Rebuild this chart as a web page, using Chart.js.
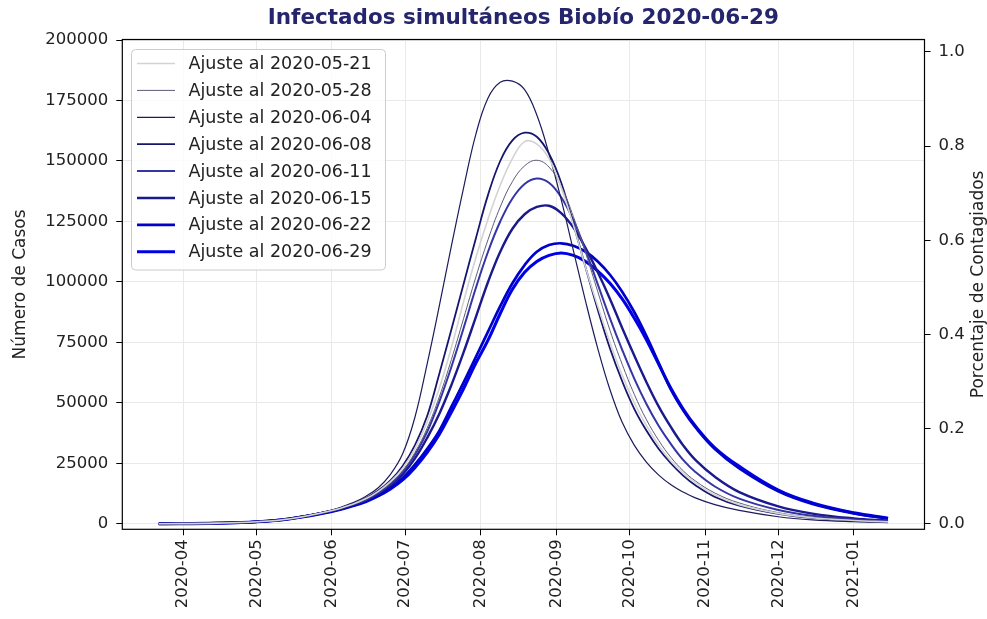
<!DOCTYPE html>
<html>
<head>
<meta charset="utf-8">
<script src="https://cdn.jsdelivr.net/npm/chart.js@4.4.1/dist/chart.umd.min.js"></script>
<style>
html,body{margin:0;padding:0;background:#fff;}
canvas{display:block;}
</style>
</head>
<body>
<canvas id="c" width="987" height="619"></canvas>
<script>
// ---------------- data ----------------
const chartTitle = 'Infectados simultáneos Biobío 2020-06-29';
const leftAxisTitle = 'Número de Casos';
const rightAxisTitle = 'Porcentaje de Contagiados';

const dates = ['2020-03-22','2020-04-15','2020-05-01','2020-05-15','2020-06-01',
  '2020-06-10','2020-06-15','2020-06-20','2020-06-25','2020-06-30',
  '2020-07-05','2020-07-10','2020-07-15','2020-07-20','2020-07-25',
  '2020-07-30','2020-08-04','2020-08-09','2020-08-14','2020-08-19',
  '2020-08-24','2020-08-29','2020-09-03','2020-09-08','2020-09-13',
  '2020-09-18','2020-09-23','2020-09-28','2020-10-03','2020-10-08',
  '2020-10-13','2020-10-18','2020-10-23','2020-10-28',
  '2020-11-05','2020-11-15','2020-12-01','2020-12-15','2021-01-01','2021-01-15'];

const fitLabels = ['Ajuste al 2020-05-21','Ajuste al 2020-05-28','Ajuste al 2020-06-04','Ajuste al 2020-06-08',
  'Ajuste al 2020-06-11','Ajuste al 2020-06-15','Ajuste al 2020-06-22','Ajuste al 2020-06-29'];

const fit0521 = [80,350,900,2200,5600, 8400,10500,13500,17500,23000, 31000,42000,56000,73000,92000,
  110000,126000,140000,151000,158000, 157000,151000,139000,123500,106000, 90000,75000,61500,50000,40500,
  32500,26000,21000,17000, 12000,8000,4400,2600,1450,880];
const fit0528 = [80,350,900,2200,5500, 8300,10300,13200,17000,22000, 29500,39500,52500,68000,85000,
  102000,117500,131000,141500,148000, 150300,147500,139500,127000,112000, 96000,80000,66000,53500,43000,
  34500,27500,22000,17800, 12800,8700,4700,2800,1550,950];
const fit0604 = [80,350,900,2200,5800, 9000,11500,15000,20500,29000, 44000,66000,90000,115000,139000,
  161000,176000,182500,183000,179500, 169000,153000,134000,113000,92000, 72500,55500,42000,32500,25500,
  20200,16200,13200,10800, 8000,5600,3000,1700,950,600];
const fit0608 = [80,350,900,2200,5600, 8500,10700,13800,18000,24000, 32500,44500,62000,80500,99300,
  118000,136000,150000,158500,161700, 160000,153000,141000,124000,106000, 88500,72500,59000,47500,38500,
  31000,25000,20000,16000, 11200,7600,4200,2500,1400,850];
const fit0611 = [80,350,900,2200,5500, 8200,10100,12900,16500,21500, 28500,38000,50500,65000,81000,
  97500,112500,125000,134500,140500, 142800,141000,135000,125500,113000, 99000,85000,72000,60000,49500,
  40500,33000,26500,21500, 15500,10500,5800,3400,1850,1100];
const fit0615 = [80,350,900,2200,5400, 8000,9900,12500,16000,20500, 27000,35500,45500,57500,71000,
  85500,100000,112500,122000,128000, 131000,131500,128500,122500,114000, 104000,93000,81000,69500,58500,
  48500,40000,32500,26500, 19500,13200,7300,4300,2300,1400];
const fit0622 = [80,350,900,2200,5300, 7800,9600,12000,15000,19000, 24500,31000,38500,48500,58500,
  69000,79500,90000,99500,107000, 112500,115300,116000,115000,112500, 108500,103000,96000,87500,77500,
  66500,55500,47000,40000, 31000,23000,13500,8300,4400,2300];
const fit0629 = [80,350,900,2200,5200, 7600,9300,11600,14500,18200, 23300,29500,37000,46300,56000,
  66500,76000,87000,97000,104000, 108500,111000,112000,111000,108500, 104500,99500,93000,85000,76000,
  66000,56000,47500,40500, 31500,23800,14000,8700,4600,2400];

const monthTicks = ['2020-04','2020-05','2020-06','2020-07','2020-08','2020-09','2020-10','2020-11','2020-12','2021-01'];
const caseTicks = [0,25000,50000,75000,100000,125000,150000,175000,200000];
const shareTicks = [0.0,0.2,0.4,0.6,0.8,1.0];

// ---------------- styles ----------------
const seriesValues = [fit0521, fit0528, fit0604, fit0608, fit0611, fit0615, fit0622, fit0629];
const seriesColors = ['#d3d3d3','#5c5c78','#1c1c5c','#16166e','#3535a6','#1a1a8e','#0000cc','#0000e8'];
const seriesWidths = [1.6,1.0,1.2,1.8,2.0,2.4,2.7,3.1];

const dayOf = s => {
  const p = s.split('-').map(Number);
  return (Date.UTC(p[0], p[1]-1, p[2] || 1) - Date.UTC(2020, 3, 1)) / 864e5;
};

const datasets = seriesValues.map((vals, k) => ({
  label: fitLabels[k],
  data: dates.map((d, i) => ({x: dayOf(d), y: vals[i]})),
  borderColor: seriesColors[k],
  borderWidth: seriesWidths[k],
  pointRadius: 0,
  fill: false,
  tension: 0.4,
  yAxisID: 'y'
}));

const FONT = 'DejaVu Sans';
const TXT = '#222';
const xSpan = dayOf(dates[dates.length-1]) - dayOf(dates[0]);

const framePlugin = {
  id: 'frameAndLegend',
  afterDatasetsDraw(chart) {
    const {ctx, chartArea: a} = chart;
    ctx.save();
    ctx.strokeStyle = '#000';
    ctx.lineWidth = 1.2;
    ctx.strokeRect(a.left, a.top, a.right - a.left, a.bottom - a.top);
    ctx.restore();
  },
  afterDraw(chart) {
    const {ctx, chartArea: a} = chart;
    // right axis title
    ctx.save();
    ctx.font = '17px "' + FONT + '"';
    ctx.fillStyle = TXT;
    ctx.translate(979, (a.top + a.bottom) / 2);
    ctx.rotate(-Math.PI / 2);
    ctx.textAlign = 'center';
    ctx.textBaseline = 'middle';
    ctx.fillText(rightAxisTitle, 0, 0);
    ctx.restore();
    // legend
    const bx = 131.5, by = 49.5, bw = 254, bh = 220.5, r = 4;
    ctx.save();
    ctx.beginPath();
    ctx.moveTo(bx + r, by);
    ctx.arcTo(bx + bw, by, bx + bw, by + bh, r);
    ctx.arcTo(bx + bw, by + bh, bx, by + bh, r);
    ctx.arcTo(bx, by + bh, bx, by, r);
    ctx.arcTo(bx, by, bx + bw, by, r);
    ctx.closePath();
    ctx.fillStyle = 'rgba(255,255,255,0.8)';
    ctx.fill();
    ctx.strokeStyle = '#cccccc';
    ctx.lineWidth = 1;
    ctx.stroke();
    ctx.font = '17.5px "' + FONT + '"';
    ctx.textBaseline = 'middle';
    ctx.textAlign = 'left';
    chart.data.datasets.forEach((ds, i) => {
      const y = 63.5 + i * 26.9;
      ctx.beginPath();
      ctx.moveTo(137, y);
      ctx.lineTo(175, y);
      ctx.strokeStyle = ds.borderColor;
      ctx.lineWidth = ds.borderWidth;
      ctx.stroke();
      ctx.fillStyle = TXT;
      ctx.fillText(ds.label, 188.5, y + 1);
    });
    ctx.restore();
  }
};

new Chart(document.getElementById('c'), {
  type: 'line',
  data: {datasets},
  plugins: [framePlugin],
  options: {
    responsive: false,
    animation: false,
    devicePixelRatio: 1,
    layout: {padding: 0},
    plugins: {
      legend: {display: false},
      tooltip: {enabled: false},
      title: {
        display: true,
        fullSize: false,
        text: chartTitle,
        color: '#25256e',
        font: {family: FONT, size: 21.5, weight: 'bold'},
        padding: {top: 6, bottom: 7.7}
      }
    },
    scales: {
      x: {
        type: 'linear',
        min: dayOf(dates[0]) - 0.05 * xSpan,
        max: dayOf(dates[dates.length-1]) + 0.05 * xSpan,
        afterBuildTicks: s => { s.ticks = monthTicks.map(m => ({value: dayOf(m)})); },
        afterFit: s => { s.height = 89.7; },
        ticks: {
          autoSkip: false,
          minRotation: 90,
          maxRotation: 90,
          padding: 4,
          color: TXT,
          font: {family: FONT, size: 16.5},
          callback: (v, i) => monthTicks[i]
        },
        grid: {color: '#e9e9e9', lineWidth: 1, tickColor: '#000', tickLength: 6, tickWidth: 1},
        border: {display: false}
      },
      y: {
        position: 'left',
        min: -2192,
        max: 200207,
        afterBuildTicks: s => { s.ticks = caseTicks.map(v => ({value: v})); },
        afterFit: s => { s.width = 122.3; },
        ticks: {
          padding: 8,
          color: TXT,
          font: {family: FONT, size: 16.5},
          callback: v => String(v)
        },
        grid: {color: '#e9e9e9', lineWidth: 1, tickColor: '#000', tickLength: 6, tickWidth: 1},
        border: {display: false},
        title: {
          display: true,
          text: leftAxisTitle,
          color: TXT,
          font: {family: FONT, size: 17},
          padding: {top: 10, bottom: 0}
        }
      },
      y2: {
        position: 'right',
        min: -0.01274,
        max: 1.0261,
        afterBuildTicks: s => { s.ticks = shareTicks.map(v => ({value: v})); },
        afterFit: s => { s.width = 62.5; },
        ticks: {
          padding: 8,
          color: TXT,
          font: {family: FONT, size: 16.5},
          callback: v => Number(v).toFixed(1)
        },
        grid: {drawOnChartArea: false, tickColor: '#000', tickLength: 6, tickWidth: 1},
        border: {display: false}
      }
    }
  }
});
</script>
</body>
</html>
